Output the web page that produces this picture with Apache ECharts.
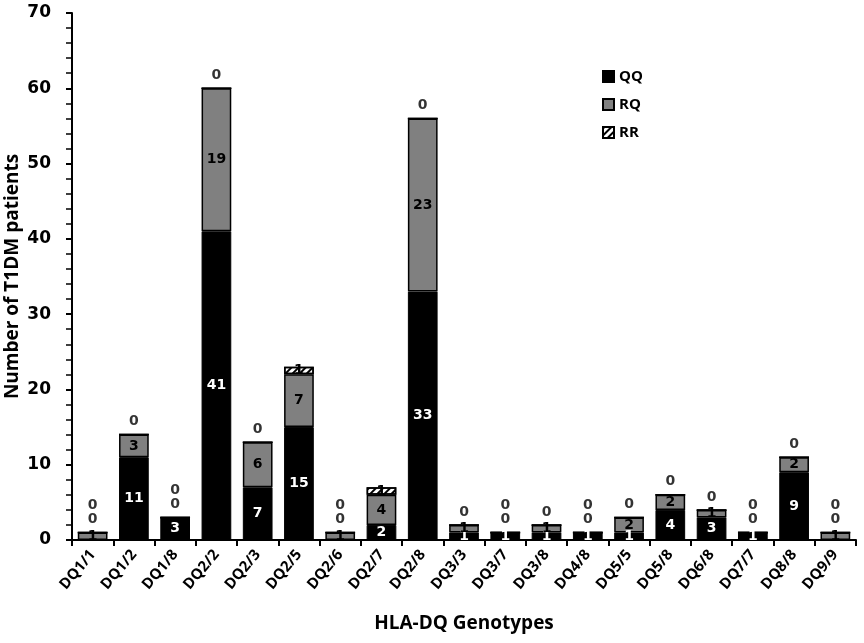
<!DOCTYPE html>
<html>
<head>
<meta charset="utf-8">
<script src="https://cdn.jsdelivr.net/npm/echarts@6/dist/echarts.min.js"></script>
<style>
  html, body { margin: 0; padding: 0; background: #fff; }
  #chart { width: 864px; height: 643px; }
</style>
</head>
<body>
<div id="chart"></div>
<script>
var genotypes = ['DQ1/1', 'DQ1/2', 'DQ1/8', 'DQ2/2', 'DQ2/3', 'DQ2/5', 'DQ2/6', 'DQ2/7', 'DQ2/8', 'DQ3/3',
                 'DQ3/7', 'DQ3/8', 'DQ4/8', 'DQ5/5', 'DQ5/8', 'DQ6/8', 'DQ7/7', 'DQ8/8', 'DQ9/9'];
var qq = [0, 11, 3, 41, 7, 15, 0, 2, 33, 1, 1, 1, 1, 1, 4, 3, 1, 9, 0];
var rq = [1, 3, 0, 19, 6, 7, 1, 4, 23, 1, 0, 1, 0, 2, 2, 1, 0, 2, 1];
var rr = [0, 0, 0, 0, 0, 1, 0, 1, 0, 0, 0, 0, 0, 0, 0, 0, 0, 0, 0];
var yTicks = [0, 10, 20, 30, 40, 50, 60, 70];

// zero counts are printed above each bar, one per line
var zeroMarks = [];
for (var i = 0; i < genotypes.length; i++) {
    var zeros = [];
    if (qq[i] === 0) zeros.push('0');
    if (rq[i] === 0) zeros.push('0');
    if (rr[i] === 0) zeros.push('0');
    zeroMarks.push({ value: qq[i] + rq[i] + rr[i], text: zeros.join('\n') });
}

var myChart = echarts.init(document.getElementById('chart'));

function segLabel(color) {
    return {
        show: true,
        position: 'inside',
        color: color,
        fontFamily: 'DejaVu Sans',
        fontWeight: 'bold',
        fontSize: 14,
        formatter: function (p) { return p.value === 0 ? '' : p.value; }
    };
}

var option = {
    backgroundColor: '#fff',
    animation: false,
    grid: { left: 72, right: 8, top: 13, bottom: 103, outerBoundsMode: 'none', containLabel: false },
    legend: {
        orient: 'vertical',
        left: 597,
        top: 64,
        icon: 'rect',
        itemWidth: 11,
        itemHeight: 11,
        itemGap: 13,
        data: ['QQ', 'RQ', 'RR'],
        textStyle: { fontFamily: 'Open Sans', fontWeight: 'bold', fontSize: 15, color: '#000' }
    },
    xAxis: {
        type: 'category',
        data: genotypes,
        name: 'HLA-DQ Genotypes',
        nameLocation: 'middle',
        nameGap: 74,
        nameMoveOverlap: false,
        nameTextStyle: { fontFamily: 'Open Sans', fontWeight: 'bold', fontSize: 19, color: '#000' },
        axisLine: { lineStyle: { color: '#000', width: 2 } },
        axisTick: { show: true, alignWithLabel: false, length: 6, lineStyle: { color: '#000', width: 2 } },
        axisLabel: {
            rotate: 50,
            interval: 0,
            hideOverlap: false,
            color: '#000',
            fontFamily: 'Open Sans',
            fontWeight: 'bold',
            fontSize: 15,
            margin: 12
        }
    },
    yAxis: {
        type: 'value',
        min: 0,
        max: 70,
        interval: 10,
        name: 'Number of T1DM patients',
        nameLocation: 'middle',
        nameGap: 50,
        nameMoveOverlap: false,
        nameTextStyle: { fontFamily: 'Open Sans', fontWeight: 'bold', fontSize: 19, color: '#000' },
        axisLine: { show: true, lineStyle: { color: '#000', width: 2 } },
        axisTick: { show: true, length: 6, lineStyle: { color: '#000', width: 2 } },
        minorTick: { show: true, splitNumber: 5, length: 6, lineStyle: { color: '#000', width: 1.5 } },
        splitLine: { show: false },
        axisLabel: {
            color: '#000',
            fontFamily: 'DejaVu Sans',
            fontWeight: 'bold',
            fontSize: 17,
            margin: 21,
            formatter: function (v) { return yTicks.indexOf(v) >= 0 ? v : ''; }
        }
    },
    series: [
        {
            name: 'QQ',
            type: 'bar',
            stack: 'total',
            barWidth: '72%',
            data: qq,
            itemStyle: { color: '#000', borderColor: '#000', borderWidth: 1 },
            label: segLabel('#fff')
        },
        {
            name: 'RQ',
            type: 'bar',
            stack: 'total',
            data: rq,
            itemStyle: { color: '#808080', borderColor: '#000', borderWidth: 1.5 },
            label: segLabel('#000')
        },
        {
            name: 'RR',
            type: 'bar',
            stack: 'total',
            data: rr,
            itemStyle: {
                color: '#fff',
                borderColor: '#000',
                borderWidth: 1.5,
                decal: {
                    symbol: 'rect',
                    symbolSize: 1,
                    color: '#000',
                    dashArrayX: [1, 0],
                    dashArrayY: [1.5, 2.5],
                    rotation: -Math.PI / 4
                }
            },
            label: segLabel('#000')
        },
        {
            name: 'zeros',
            type: 'scatter',
            symbolSize: 0,
            silent: true,
            data: zeroMarks.map(function (z) { return { value: z.value, text: z.text }; }),
            label: {
                show: true,
                position: 'top',
                distance: 6,
                color: '#000',
                fontFamily: 'DejaVu Sans',
                fontWeight: 'bold',
                fontSize: 14,
                lineHeight: 14,
                formatter: function (p) { return p.data.text; }
            }
        }
    ]
};
myChart.setOption(option);
</script>
</body>
</html>
